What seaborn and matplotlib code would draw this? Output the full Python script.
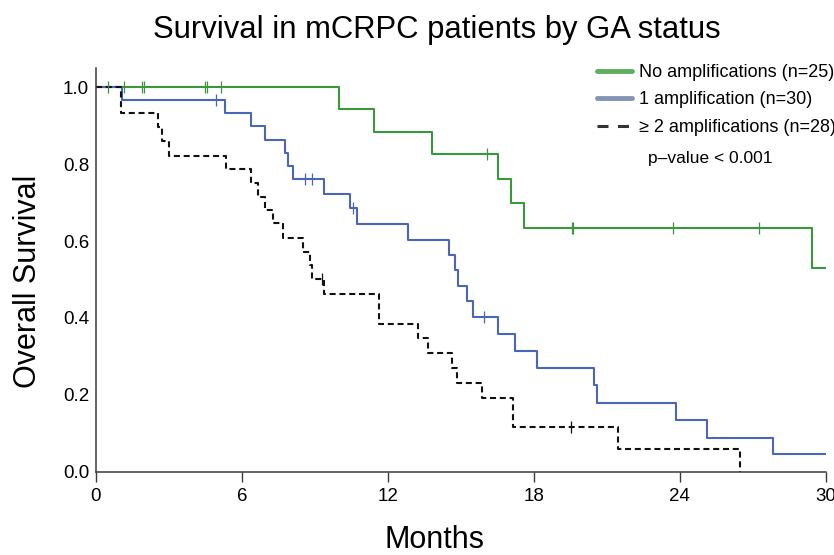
import numpy as np
import pandas as pd
import seaborn as sns
import matplotlib.pyplot as plt
from matplotlib.lines import Line2D

# Kaplan-Meier steps:
# time of each drop (months) and the survival level right after it
no_amp_times = [9.99, 11.44, 13.83, 16.52, 17.06, 17.61, 29.44]
no_amp_surv = [0.943, 0.883, 0.825, 0.761, 0.700, 0.635, 0.529]
no_amp_cens = [0.48, 1.16, 1.89, 1.97, 4.49, 4.58, 5.15, 16.07, 19.56, 19.63, 23.74, 27.25]

one_amp_times = [1.05, 5.30, 6.36, 6.95, 7.79, 7.89, 8.09, 9.38, 10.46, 10.74, 12.82,
                 14.51, 14.76, 14.87, 15.24, 15.49, 16.52, 17.22, 18.12, 20.49, 20.59,
                 23.84, 25.11, 27.83]
one_amp_surv = [0.967, 0.934, 0.899, 0.864, 0.830, 0.795, 0.761, 0.722, 0.685, 0.644, 0.603,
                0.564, 0.525, 0.483, 0.443, 0.403, 0.358, 0.314, 0.269, 0.225, 0.179,
                0.134, 0.088, 0.045]
one_amp_cens = [4.95, 8.59, 8.87, 10.55, 15.97]

two_amp_times = [1.02, 2.56, 2.70, 3.00, 5.33, 6.36, 6.67, 6.95, 7.27, 7.70, 8.50, 8.81,
                 8.87, 9.38, 11.65, 13.25, 13.66, 14.63, 14.83, 15.86, 17.16, 21.48, 26.48]
two_amp_surv = [0.932, 0.896, 0.860, 0.822, 0.787, 0.752, 0.715, 0.681, 0.646, 0.609, 0.572,
                0.538, 0.501, 0.462, 0.384, 0.347, 0.308, 0.270, 0.231, 0.192, 0.115, 0.059, 0.0]
two_amp_cens = [9.30, 19.55]

labels = ["No amplifications (n=25)", "1 amplification (n=30)", "\u2265 2 amplifications (n=28)"]
x_ticks = [0, 6, 12, 18, 24, 30]
y_ticks = [0.0, 0.2, 0.4, 0.6, 0.8, 1.0]
p_text = "p\u2013value < 0.001"


def curve_df(times, surv, end):
    t = [0.0] + list(times)
    s = [1.0] + list(surv)
    if end > t[-1]:
        t.append(end)
        s.append(s[-1])
    return pd.DataFrame({"months": t, "survival": s})


def cens_df(times, surv, cens):
    levels = np.array([1.0] + list(surv))
    idx = np.searchsorted(times, cens, side="right")
    return pd.DataFrame({"months": cens, "survival": levels[idx]})


sns.set_style("ticks")
plt.rcParams["font.family"] = ["Liberation Sans", "DejaVu Sans"]
plt.rcParams["text.color"] = "black"
plt.rcParams["axes.labelcolor"] = "black"
plt.rcParams["xtick.color"] = "black"
plt.rcParams["ytick.color"] = "black"

fig = plt.figure(figsize=(8.34, 5.55), dpi=100)
ax = fig.add_axes([0.1151, 0.1501, 0.8749, 0.7274])

groups = [
    (no_amp_times, no_amp_surv, no_amp_cens, 30, "#3b973b", "-"),
    (one_amp_times, one_amp_surv, one_amp_cens, 30, "#4a66b8", "-"),
    (two_amp_times, two_amp_surv, two_amp_cens, two_amp_times[-1], "#111111", (0, (2.9, 1.8))),
]
for times, surv, cens, end, col, ls in groups:
    sns.lineplot(data=curve_df(times, surv, end), x="months", y="survival", ax=ax,
                 drawstyle="steps-post", estimator=None, sort=False,
                 color=col, lw=1.5, linestyle=ls)
    sns.scatterplot(data=cens_df(times, surv, cens), x="months", y="survival", ax=ax,
                    marker="|", s=80, linewidth=0.9, color=col, zorder=3)

ax.set_xlim(0, 30)
ax.set_ylim(0, 1.05)
ax.set_xticks(x_ticks)
ax.set_yticks(y_ticks)
ax.set_yticklabels([f"{v:.1f}" for v in y_ticks])
ax.tick_params(axis="x", length=7, width=1, color="#3a3a3a", labelsize=13.5, pad=5)
ax.tick_params(axis="y", length=0, labelsize=13.5, pad=5)
sns.despine(ax=ax)
for side in ["left", "bottom"]:
    ax.spines[side].set_color("#3a3a3a")
    ax.spines[side].set_linewidth(1.1)

ax.set_xlabel("Months", fontsize=22, va="center")
ax.xaxis.set_label_coords(0.4646, -0.170)
ax.set_ylabel("Overall Survival", fontsize=22, va="center")
ax.yaxis.set_label_coords(-0.093, 0.4726)

fig.text(437 / 834, 1 - 30 / 555, "Survival in mCRPC patients by GA status",
         fontsize=22.3, ha="center", va="center")

handles = [
    Line2D([], [], color="#5fae5f", lw=3.5),
    Line2D([], [], color="#8495b3", lw=3.5),
    Line2D([], [], color="#333333", lw=2.2, linestyle=(0, (3.6, 3.1))),
]
fig.legend(handles, labels, loc="upper left", bbox_to_anchor=(597 / 834, 1 - 64 / 555),
           frameon=False, fontsize=13, borderpad=0, borderaxespad=0,
           handlelength=1.95, handletextpad=0.35, labelspacing=0.58)

fig.text(710 / 834, 1 - 159 / 555, p_text, fontsize=12.5, ha="center", va="center")

fig.savefig("out.png", dpi=100)
